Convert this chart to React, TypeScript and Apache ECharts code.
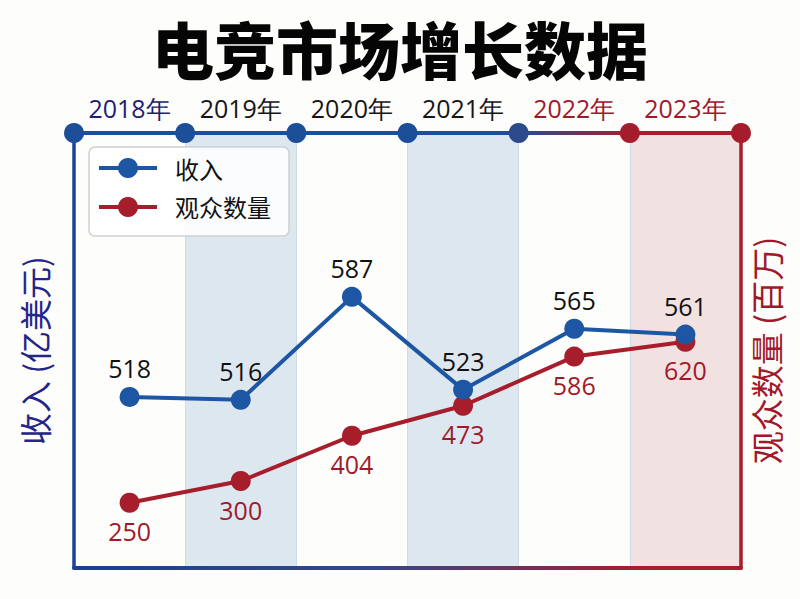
import React, { useEffect, useRef } from "react";
import * as echarts from "echarts";

const titleText = "电竞市场增长数据";
const years = ["2018年", "2019年", "2020年", "2021年", "2022年", "2023年"];
const revenueName = "收入";
const audienceName = "观众数量";
const revenue = [518, 516, 587, 523, 565, 561];
const audience = [250, 300, 404, 473, 586, 620];
const leftAxisName = "收入 (亿美元)";
const rightAxisName = "观众数量 (百万)";

const BLUE = "#1d56a3";
const RED = "#a61d2c";
const yearLabelColors = ["#1e1e72", "#151515", "#151515", "#151515", "#a0192b", "#a0192b"];
const bandColors = ["rgba(0,0,0,0)", "#dde7f0", "rgba(0,0,0,0)", "#dde7f0", "rgba(0,0,0,0)", "#f2e1e1"];
const boundaryColors = ["#1c4f97", "#1c4f97", "#1c4f97", "#1c4f97", "#2d4a8a", "#a51d2c", "#a51d2c"];

const CJK = "'Noto Sans CJK SC', 'Noto Sans', sans-serif";
const NUM = "'Open Sans', 'Noto Sans', sans-serif";

export default function App() {
  const ref = useRef<HTMLDivElement>(null);
  useEffect(() => {
    if (!ref.current) return;
    const chart = echarts.init(ref.current, undefined, { renderer: "svg" });
    const gridLeft = 74;
    const gridRight = 59;
    const W = 800;
    const x0 = gridLeft;
    const x1 = W - gridRight;
    const topGrad = new echarts.graphic.LinearGradient(
      x0, 0, x1, 0,
      [
        { offset: 0, color: "#1c4f97" },
        { offset: 0.66, color: "#1f4f95" },
        { offset: 0.84, color: RED },
        { offset: 1, color: RED },
      ],
      true
    );
    const bottomGrad = new echarts.graphic.LinearGradient(
      x0, 0, x1, 0,
      [
        { offset: 0, color: "#1c3f8f" },
        { offset: 0.45, color: "#34478a" },
        { offset: 0.85, color: RED },
        { offset: 1, color: RED },
      ],
      true
    );
    chart.setOption({
      animation: false,
      backgroundColor: "#fdfdfb",
      title: {
        text: titleText,
        left: "center",
        top: 10,
        textStyle: { fontSize: 62, fontWeight: 900, color: "#050505", fontFamily: CJK, lineHeight: 66 },
      },
      legend: {
        data: [revenueName, audienceName],
        orient: "vertical",
        left: 89,
        top: 147,
        itemWidth: 58,
        itemHeight: 25,
        itemGap: 15,
        padding: [9, 18, 17, 8],
        backgroundColor: "rgba(255,255,255,0.85)",
        borderColor: "#cfcfcf",
        borderWidth: 1.5,
        borderRadius: 6,
        lineStyle: { width: 4 },
        textStyle: { fontSize: 24, color: "#111", fontFamily: CJK, padding: [0, 0, 0, 13] },
      },
      grid: { left: gridLeft, right: gridRight, top: 133, bottom: 31 },
      xAxis: [
        {
          type: "category",
          position: "top",
          data: years,
          boundaryGap: true,
          axisLine: { show: true, lineStyle: { color: topGrad, width: 4 } },
          axisTick: { show: false },
          axisLabel: {
            margin: 13,
            fontSize: 25,
            fontFamily: NUM,
            color: (_v: any, i: number) => yearLabelColors[i],
          },
          splitArea: { show: true, areaStyle: { color: bandColors } },
          splitLine: { show: true, lineStyle: { color: "#cfdbe7", width: 1 } },
        },
        {
          type: "category",
          position: "bottom",
          data: years,
          boundaryGap: true,
          axisLine: { show: true, lineStyle: { color: bottomGrad, width: 4 } },
          axisTick: { show: false },
          axisLabel: { show: false },
          splitLine: { show: false },
        },
      ],
      yAxis: [
        {
          type: "value",
          position: "left",
          min: 400,
          max: 700,
          axisLine: { show: true, lineStyle: { color: "#1c4397", width: 3.5 } },
          axisTick: { show: false },
          axisLabel: { show: false },
          splitLine: { show: false },
          name: leftAxisName,
          nameLocation: "middle",
          nameRotate: 90,
          nameGap: 24,
          nameTextStyle: { fontSize: 32, color: "#24248a", fontFamily: CJK },
        },
        {
          type: "value",
          position: "right",
          min: 100,
          max: 1100,
          axisLine: { show: true, lineStyle: { color: RED, width: 3.5 } },
          axisTick: { show: false },
          axisLabel: { show: false },
          splitLine: { show: false },
          name: rightAxisName,
          nameLocation: "middle",
          nameRotate: 90,
          nameGap: 8,
          nameTextStyle: { fontSize: 33, color: "#a0182a", fontFamily: CJK },
        },
      ],
      series: [
        {
          name: revenueName,
          type: "line",
          xAxisIndex: 0,
          yAxisIndex: 0,
          data: revenue,
          symbol: "circle",
          symbolSize: 20,
          z: 5,
          lineStyle: { color: BLUE, width: 4 },
          itemStyle: { color: BLUE },
          label: { show: true, position: "top", distance: 6, fontSize: 25, color: "#111", fontFamily: NUM },
        },
        {
          name: audienceName,
          type: "line",
          xAxisIndex: 0,
          yAxisIndex: 1,
          data: audience,
          symbol: "circle",
          symbolSize: 20,
          z: 4,
          lineStyle: { color: RED, width: 4 },
          itemStyle: { color: RED },
          label: { show: true, position: "bottom", distance: 6, fontSize: 25, color: "#a0192b", fontFamily: NUM },
        },
        {
          type: "custom",
          name: "boundaries",
          xAxisIndex: 0,
          yAxisIndex: 1,
          silent: true,
          z: 20,
          data: years.map((_, i) => [i, 600]),
          encode: { x: 0, y: 1 },
          renderItem: (params: any, api: any) => {
            const i = api.value(0);
            const pt = api.coord([i, 600]);
            const bw = api.size([1, 0])[0];
            const top = params.coordSys.y;
            const children: any[] = [
              { type: "circle", shape: { cx: pt[0] - bw / 2, cy: top, r: 10 }, style: { fill: boundaryColors[i] } },
            ];
            if (i === years.length - 1) {
              children.push({
                type: "circle",
                shape: { cx: pt[0] + bw / 2, cy: top, r: 10 },
                style: { fill: boundaryColors[i + 1] },
              });
            }
            return { type: "group", children };
          },
        },
      ],
    });
    return () => chart.dispose();
  }, []);
  return <div ref={ref} style={{ position: "absolute", left: 0, top: 0, width: 800, height: 599 }} />;
}
